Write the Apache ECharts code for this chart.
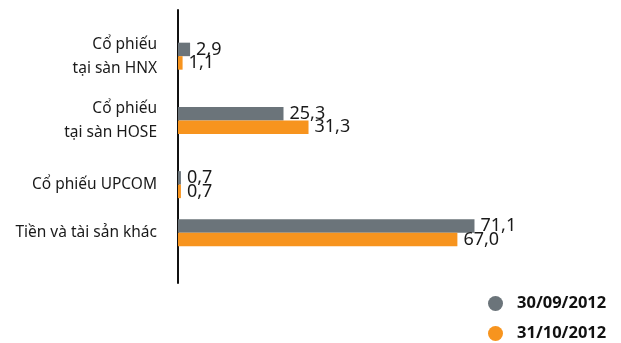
<!DOCTYPE html>
<html>
<head>
<meta charset="utf-8">
<script src="https://cdn.jsdelivr.net/npm/echarts@6/dist/echarts.min.js"></script>
<style>html,body{margin:0;padding:0;background:#fff}#c{width:621px;height:343px}</style>
</head>
<body>
<div id="c"></div>
<script>
var categories = ["Cổ phiếu\ntại sàn HNX", "Cổ phiếu\ntại sàn HOSE", "Cổ phiếu UPCOM", "Tiền và tài sản khác"];
var seriesNames = ["30/09/2012", "31/10/2012"];
var valuesSep = [2.9, 25.3, 0.7, 71.1];
var valuesOct = [1.1, 31.3, 0.7, 67.0];

// layout: category rows placed on a finer slot grid to mimic the uneven spacing
var slotCount = 68;
var slotOf = [11, 27, 43, 55];
var slotLabels = [], sepData = [], octData = [];
for (var i = 0; i < slotCount; i++) { slotLabels.push(''); sepData.push(null); octData.push(null); }
categories.forEach(function (c, k) {
  slotLabels[slotOf[k]] = c;
  sepData[slotOf[k]] = valuesSep[k];
  octData[slotOf[k]] = valuesOct[k];
});

function fmt(p) { return p.value.toFixed(1).replace('.', ','); }
var labelStyle = { show: true, position: 'right', distance: 6, fontSize: 18, color: '#1a1a1a',
  fontFamily: 'Noto Sans', formatter: fmt };

var chart = echarts.init(document.getElementById('c'));
chart.setOption({
  animation: false,
  textStyle: { fontFamily: 'Noto Sans' },
  grid: { left: 178, top: 10, height: 273, width: 417 },
  xAxis: { type: 'value', min: 0, max: 100, show: false },
  yAxis: {
    type: 'category', inverse: true, data: slotLabels,
    axisLine: { show: true, lineStyle: { color: '#111', width: 2 } },
    axisTick: { show: false },
    axisLabel: { interval: 0, margin: 21, fontSize: 15.5, color: '#1a1a1a', lineHeight: 24, fontFamily: 'Noto Sans' },
    splitLine: { show: false }
  },
  legend: {
    orient: 'vertical', left: 488, top: 295, itemGap: 13, padding: 0,
    icon: 'circle', itemWidth: 15, itemHeight: 15,
    textStyle: { fontSize: 16.5, fontWeight: 'bold', color: '#111', fontFamily: 'Noto Sans', padding: [0, 0, 0, 9] },
    data: seriesNames
  },
  series: [
    { name: seriesNames[0], type: 'bar', data: sepData, barWidth: 13.5, barGap: '0%',
      itemStyle: { color: '#6b747a' }, label: labelStyle },
    { name: seriesNames[1], type: 'bar', data: octData, barWidth: 13.5, barGap: '0%',
      itemStyle: { color: '#f7941e' }, label: labelStyle }
  ]
});
</script>
</body>
</html>
